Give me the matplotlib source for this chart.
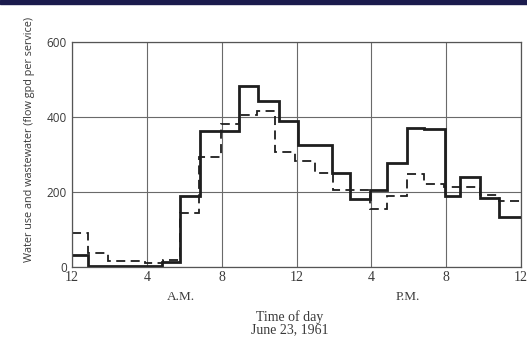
import matplotlib.pyplot as plt
from matplotlib.patches import Rectangle

# hours after midnight where each step starts/ends
water_edges = [0, 0.82, 4.78, 5.77, 6.84, 8.92, 9.92, 11.08, 12.07, 13.92,
               14.87, 15.9, 16.86, 17.9, 18.83, 19.91, 20.75, 21.83, 22.82, 24]
water_use = [32, 3, 12, 188, 363, 483, 443, 388, 326, 251,
             180, 206, 276, 371, 367, 188, 241, 183, 132]

waste_edges = [0, 0.82, 1.89, 3.9, 4.87, 5.77, 6.8, 7.96, 8.9, 9.87, 10.85,
               11.92, 13.0, 13.94, 15.9, 16.85, 17.9, 18.8, 19.9, 21.8, 22.8, 24]
wastewater = [90, 36, 16, 10, 19, 143, 292, 380, 405, 416, 305,
              283, 250, 205, 154, 188, 248, 222, 212, 192, 177]

xticks = [0, 4, 8, 12, 16, 20, 24]
xlabels = ["12", "4", "8", "12", "4", "8", "12"]
yticks = [0, 200, 400, 600]

ink = "#1e1e1e"
txt = "#3a3a3a"
serif = "Liberation Serif"

fig = plt.figure(figsize=(5.27, 3.39), dpi=100)
ax = fig.add_axes([0.137, 0.2124, 0.8516, 0.6646])

ax.stairs(water_use, water_edges, baseline=None, color=ink, lw=2.0)
ax.stairs(wastewater, waste_edges, baseline=None, color=ink, lw=1.3,
          linestyle=(0, (5, 3)))

ax.set_xlim(0, 24)
ax.set_ylim(0, 600)
ax.set_xticks(xticks)
ax.set_xticklabels(xlabels, family=serif, fontsize=10, color=txt)
ax.set_yticks(yticks)
ax.set_yticklabels([str(v) for v in yticks], family="Open Sans", fontsize=8.5,
                   color=txt)
ax.tick_params(axis="x", length=0, pad=3)
ax.tick_params(axis="y", length=0, pad=4)
ax.grid(True, color="#6a6a6a", lw=0.8)
ax.set_axisbelow(True)
for s in ax.spines.values():
    s.set_color("#555555")
    s.set_linewidth(0.9)

fig.text(181 / 527, 1 - 297 / 339, "A.M.", family=serif, fontsize=9.5,
         color=txt, ha="center", va="center")
fig.text(408 / 527, 1 - 297 / 339, "P.M.", family=serif, fontsize=9.5,
         color=txt, ha="center", va="center")
fig.text(290 / 527, 1 - 317 / 339, "Time of day", family=serif, fontsize=10,
         color=txt, ha="center", va="center")
fig.text(290 / 527, 1 - 329.5 / 339, "June 23, 1961", family=serif, fontsize=10,
         color=txt, ha="center", va="center")
fig.text(30 / 527, 1 - 139 / 339, "Water use and wastewater (flow gpd per service)",
         family="Open Sans", fontsize=7.8, color=txt, rotation=90,
         ha="center", va="center")

# dark band along the top edge of the scan
fig.patches.append(Rectangle((0, 1 - 3.5 / 339), 1, 3.5 / 339,
                             transform=fig.transFigure, color="#1b1b4d"))

fig.savefig("out.png", dpi=100)
